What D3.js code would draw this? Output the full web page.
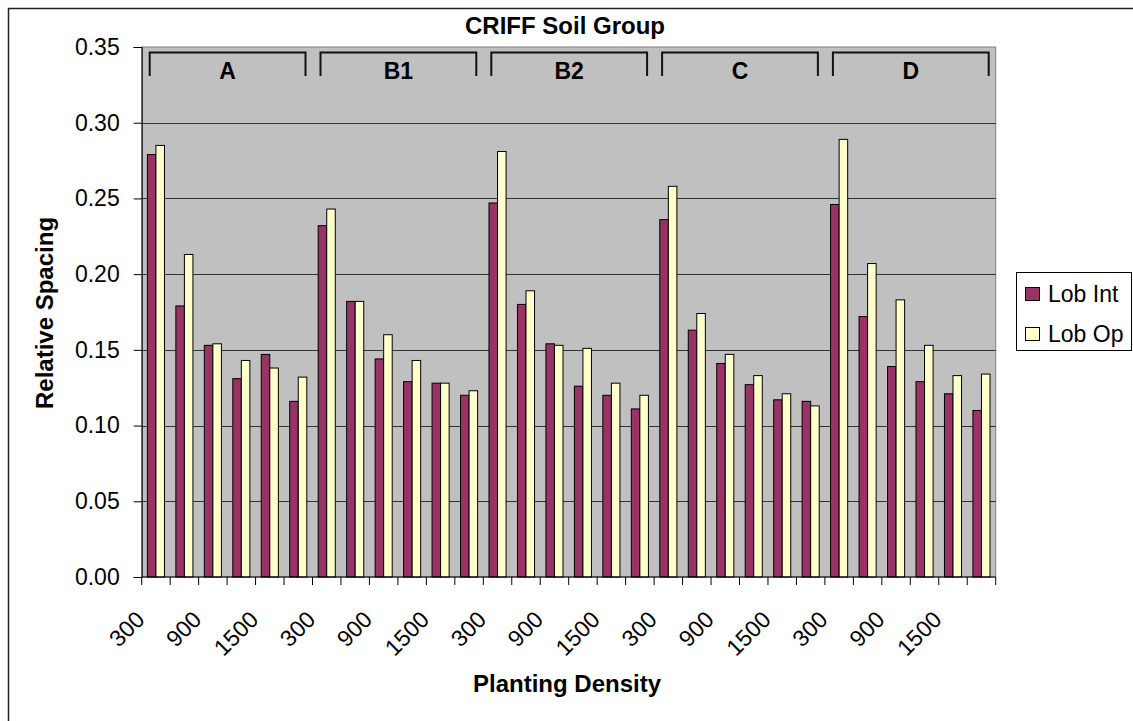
<!DOCTYPE html>
<html>
<head>
<meta charset="utf-8">
<script src="https://cdn.jsdelivr.net/npm/d3@7"></script>
<style>
  html, body { margin: 0; padding: 0; background: #fff; }
  svg { display: block; font-family: "Liberation Sans", Arial, sans-serif; }
</style>
</head>
<body>
<svg id="chart" width="1133" height="721"></svg>
<script>
// ---- data ----
const groups = ["A", "B1", "B2", "C", "D"];
const densities = [300, 600, 900, 1200, 1500, 1800];
const seriesNames = ["Lob Int", "Lob Op"];
const lobInt = [0.279, 0.179, 0.153, 0.131, 0.147, 0.116,
                0.232, 0.182, 0.144, 0.129, 0.128, 0.120,
                0.247, 0.180, 0.154, 0.126, 0.120, 0.111,
                0.236, 0.163, 0.141, 0.127, 0.117, 0.116,
                0.246, 0.172, 0.139, 0.129, 0.121, 0.110];
const lobOp  = [0.285, 0.213, 0.154, 0.143, 0.138, 0.132,
                0.243, 0.182, 0.160, 0.143, 0.128, 0.123,
                0.281, 0.189, 0.153, 0.151, 0.128, 0.120,
                0.258, 0.174, 0.147, 0.133, 0.121, 0.113,
                0.289, 0.207, 0.183, 0.153, 0.133, 0.134];
const yTicks = [0, 0.05, 0.10, 0.15, 0.20, 0.25, 0.30, 0.35];
const colors = ["#993366", "#FFFFCC"];

// ---- build rows ----
const rows = [];
groups.forEach((g, gi) => densities.forEach((d, di) => {
  const i = gi * densities.length + di;
  rows.push({ key: g + "-" + d, group: g, density: d, idx: i, values: [lobInt[i], lobOp[i]] });
}));

const svg = d3.select("#chart");
const plot = { left: 141.7, right: 995.7, top: 47, bottom: 577 };

// outer border (right/bottom edges fall outside the picture)
svg.append("rect").attr("x", 8.5).attr("y", 8.5).attr("width", 1140).attr("height", 730)
  .attr("fill", "#fff").attr("stroke", "#222").attr("stroke-width", 1.5);

const x0 = d3.scaleBand().domain(rows.map(r => r.key)).range([plot.left, plot.right]).padding(0);
const bw = x0.bandwidth();
const gap = bw * 0.2;
const x1 = d3.scaleBand().domain(seriesNames).range([gap, bw - gap]).padding(0);
const y = d3.scaleLinear().domain([0, 0.35]).range([plot.bottom, plot.top]);

// plot background
svg.append("rect").attr("x", plot.left).attr("y", plot.top)
  .attr("width", plot.right - plot.left).attr("height", plot.bottom - plot.top)
  .attr("fill", "#C0C0C0").attr("stroke", "#808080").attr("stroke-width", 1);

// gridlines
svg.append("g").selectAll("line").data(yTicks.filter(t => t > 0 && t < 0.35)).join("line")
  .attr("x1", plot.left).attr("x2", plot.right)
  .attr("y1", d => Math.round(y(d)) + 0.5).attr("y2", d => Math.round(y(d)) + 0.5)
  .attr("stroke", "#333").attr("stroke-width", 1);

// bars
const barG = svg.append("g").selectAll("g").data(rows).join("g")
  .attr("transform", d => `translate(${x0(d.key)},0)`);
barG.selectAll("rect").data(d => d.values.map((v, si) => ({ v, si }))).join("rect")
  .attr("x", d => x1(seriesNames[d.si]))
  .attr("width", x1.bandwidth())
  .attr("y", d => y(d.v))
  .attr("height", d => y(0) - y(d.v))
  .attr("fill", d => colors[d.si])
  .attr("stroke", "#000").attr("stroke-width", 1);

// y axis
const yAxis = d3.axisLeft(y).tickValues(yTicks).tickFormat(d3.format(".2f")).tickSize(8).tickPadding(14);
const yg = svg.append("g").attr("transform", `translate(${plot.left},0)`).call(yAxis);
yg.select(".domain").attr("stroke", "#000");
yg.selectAll(".tick line").attr("stroke", "#000");
yg.selectAll(".tick text").attr("font-size", 23).attr("fill", "#000")
  .attr("font-family", "Liberation Sans, Arial, sans-serif");

// x axis (ticks at category boundaries)
const xg = svg.append("g").attr("transform", `translate(0,${plot.bottom})`);
xg.append("line").attr("x1", plot.left).attr("x2", plot.right).attr("stroke", "#000");
const bounds = rows.map(r => x0(r.key)).concat([plot.right]);
xg.selectAll("line.tk").data(bounds).join("line").attr("class", "tk")
  .attr("x1", d => d).attr("x2", d => d).attr("y1", 0).attr("y2", 8).attr("stroke", "#000");
xg.selectAll("text").data(rows.filter(r => r.idx % 2 === 0)).join("text")
  .attr("transform", d => `translate(${x0(d.key) + bw / 2 - 10},${621 - plot.bottom}) rotate(-45)`)
  .attr("text-anchor", "end").attr("font-size", 23).attr("fill", "#000")
  .text(d => d.density);

// group brackets
const brG = svg.append("g");
groups.forEach(g => {
  const keys = rows.filter(r => r.group === g).map(r => r.key);
  const gx0 = x0(keys[0]) + 8, gx1 = x0(keys[keys.length - 1]) + bw - 7;
  brG.append("path").attr("d", `M${gx0},76V52.5H${gx1}V76`)
    .attr("fill", "none").attr("stroke", "#111").attr("stroke-width", 2);
  brG.append("text").attr("x", (gx0 + gx1) / 2).attr("y", 79)
    .attr("text-anchor", "middle").attr("font-size", 23).attr("font-weight", "bold").text(g);
});

// title
svg.append("text").attr("x", 565).attr("y", 34).attr("text-anchor", "middle")
  .attr("font-size", 24).attr("font-weight", "bold").text("CRIFF Soil Group");

// axis titles
svg.append("text").attr("x", 567).attr("y", 692).attr("text-anchor", "middle")
  .attr("font-size", 24).attr("font-weight", "bold").text("Planting Density");
svg.append("text").attr("transform", "translate(53,313) rotate(-90)").attr("text-anchor", "middle")
  .attr("font-size", 24).attr("font-weight", "bold").text("Relative Spacing");

// legend
const lg = svg.append("g");
lg.append("rect").attr("x", 1016.5).attr("y", 272.5).attr("width", 115).attr("height", 78)
  .attr("fill", "#fff").attr("stroke", "#000").attr("stroke-width", 1);
seriesNames.forEach((s, i) => {
  const yy = 287 + i * 40;
  lg.append("rect").attr("x", 1025.5).attr("y", yy + 0.5).attr("width", 14).attr("height", 13)
    .attr("fill", colors[i]).attr("stroke", "#000");
  lg.append("text").attr("x", 1048).attr("y", yy + 15).attr("font-size", 23).text(s);
});
</script>
</body>
</html>
